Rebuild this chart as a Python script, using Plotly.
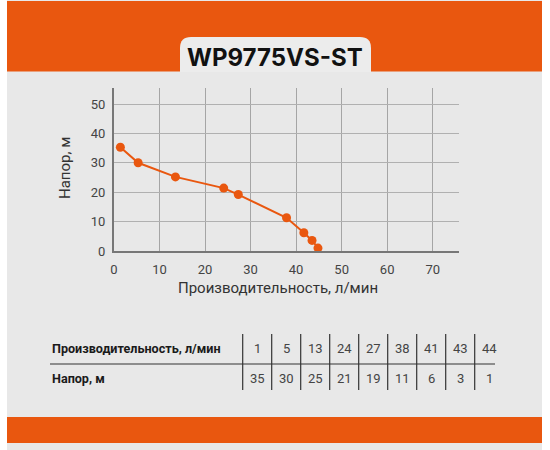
import plotly.graph_objects as go

# ---- data ----
flow_curve = [1.4, 5.3, 13.5, 24.1, 27.3, 37.9, 41.7, 43.5, 44.8]   # л/мин as plotted
head_curve = [35.3, 30.0, 25.2, 21.4, 19.2, 11.3, 6.2, 3.6, 1.0]    # м as plotted
flow_table = [1, 5, 13, 24, 27, 38, 41, 43, 44]
head_table = [35, 30, 25, 21, 19, 11, 6, 3, 1]
x_ticks = [0, 10, 20, 30, 40, 50, 60, 70]
y_ticks = [0, 10, 20, 30, 40, 50]
title_text = "WP9775VS-ST"
x_title = "Производительность, л/мин"
y_title = "Напор, м"
row1_label = "Производительность, л/мин"
row2_label = "Напор, м"

# ---- layout geometry (pixels) ----
W, H = 550, 450
L, R, T, B = 114, 459, 88, 251
ORANGE = "#E9570F"
BG = "#e8e8e8"


def px(x):
    return (x - L) / (R - L)


def py(y):
    return (B - y) / (B - T)


shapes = []
annotations = []

# background panel
shapes.append(dict(type="rect", xref="paper", yref="paper", layer="below",
                   x0=px(7), x1=px(542), y0=py(450), y1=py(0),
                   fillcolor=BG, line=dict(width=0)))
# top orange band
shapes.append(dict(type="rect", xref="paper", yref="paper", layer="below",
                   x0=px(7), x1=px(542), y0=py(71.5), y1=py(1),
                   fillcolor=ORANGE, line=dict(width=0)))
# bottom orange band
shapes.append(dict(type="rect", xref="paper", yref="paper", layer="below",
                   x0=px(7), x1=px(542), y0=py(443), y1=py(417),
                   fillcolor=ORANGE, line=dict(width=0)))
# title tab with rounded top corners
tx0, tx1, ty0, ty1, r = 180, 371, 37, 72, 11
path = (f"M {px(tx0)},{py(ty1)} L {px(tx0)},{py(ty0 + r)} "
        f"Q {px(tx0)},{py(ty0)} {px(tx0 + r)},{py(ty0)} "
        f"L {px(tx1 - r)},{py(ty0)} "
        f"Q {px(tx1)},{py(ty0)} {px(tx1)},{py(ty0 + r)} "
        f"L {px(tx1)},{py(ty1)} Z")
shapes.append(dict(type="path", xref="paper", yref="paper", layer="below",
                   path=path, fillcolor="#ececec", line=dict(width=0)))

annotations.append(dict(text=f"<b>{title_text}</b>", xref="paper", yref="paper",
                        x=px(275), y=py(58), showarrow=False,
                        xanchor="center", yanchor="middle",
                        font=dict(family="Inter, Roboto, sans-serif", size=24, color="#111")))

# axis titles
annotations.append(dict(text=x_title, xref="paper", yref="paper",
                        x=px(278), y=py(288), showarrow=False,
                        xanchor="center", yanchor="middle",
                        font=dict(family="Roboto, sans-serif", size=15, color="#333")))
annotations.append(dict(text=y_title, xref="paper", yref="paper",
                        x=px(65), y=py(168), showarrow=False, textangle=-90,
                        xanchor="center", yanchor="middle",
                        font=dict(family="Roboto, sans-serif", size=15, color="#333")))

# ---- table ----
col0 = 242.7
cw = 29.0
row1_y, row2_y = 348, 378
annotations.append(dict(text=f"<b>{row1_label}</b>", xref="paper", yref="paper",
                        x=px(50), y=py(row1_y), showarrow=False,
                        xanchor="left", yanchor="middle",
                        font=dict(family="Roboto, sans-serif", size=12.6, color="#1a1a1a")))
annotations.append(dict(text=f"<b>{row2_label}</b>", xref="paper", yref="paper",
                        x=px(50), y=py(row2_y), showarrow=False,
                        xanchor="left", yanchor="middle",
                        font=dict(family="Roboto, sans-serif", size=12.6, color="#1a1a1a")))
for i, (fv, hv) in enumerate(zip(flow_table, head_table)):
    cx = col0 + cw * i + cw / 2
    annotations.append(dict(text=str(fv), xref="paper", yref="paper",
                            x=px(cx), y=py(row1_y), showarrow=False,
                            xanchor="center", yanchor="middle",
                            font=dict(family="Roboto, sans-serif", size=13, color="#444")))
    annotations.append(dict(text=str(hv), xref="paper", yref="paper",
                            x=px(cx), y=py(row2_y), showarrow=False,
                            xanchor="center", yanchor="middle",
                            font=dict(family="Roboto, sans-serif", size=13, color="#444")))
    vx = col0 + cw * i
    shapes.append(dict(type="line", xref="paper", yref="paper",
                       x0=px(vx), x1=px(vx), y0=py(334), y1=py(390),
                       line=dict(color="#333", width=1.2)))
shapes.append(dict(type="line", xref="paper", yref="paper",
                   x0=px(50), x1=px(495), y0=py(364), y1=py(364),
                   line=dict(color="#333", width=1.2)))

# ---- figure ----
fig = go.Figure()
fig.add_trace(go.Scatter(
    x=flow_curve, y=head_curve, mode="lines+markers",
    line=dict(color=ORANGE, width=2),
    marker=dict(color=ORANGE, size=9),
    hoverinfo="skip", showlegend=False,
))

x_max = (R - L) / ((432.7 - L) / 70)
y_max = (B - T) / ((B - 104.0) / 50)

fig.update_layout(
    width=W, height=H,
    margin=dict(l=L, r=W - R, t=T, b=H - B, pad=0),
    paper_bgcolor="white",
    plot_bgcolor="rgba(0,0,0,0)",
    shapes=shapes,
    annotations=annotations,
    font=dict(family="Roboto, sans-serif", color="#444"),
    xaxis=dict(range=[0, x_max], tickvals=x_ticks, showgrid=True,
               gridcolor="#a5a5a5", gridwidth=1, zeroline=False,
               showline=True, linecolor="#777", linewidth=2,
               ticks="outside", ticklen=5, tickcolor="rgba(0,0,0,0)",
               tickfont=dict(size=13, color="#444"), fixedrange=True),
    yaxis=dict(range=[0, y_max], tickvals=y_ticks, showgrid=True,
               gridcolor="#b0b0b0", gridwidth=1, zeroline=False,
               showline=True, linecolor="#777", linewidth=2,
               ticks="outside", ticklen=4, tickcolor="rgba(0,0,0,0)",
               tickfont=dict(size=13, color="#444"), fixedrange=True),
)

fig.write_html("out.html", config={"displayModeBar": False},
               post_script="document.body.style.margin='0px';document.body.style.overflow='hidden';")
